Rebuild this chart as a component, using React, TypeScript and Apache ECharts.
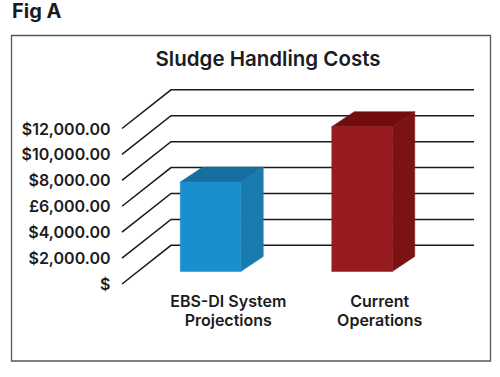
import React, { useEffect, useRef } from "react";
import * as echarts from "echarts";

const categories = ["EBS-DI System\nProjections", "Current\nOperations"];
const costs = [6900, 11180];
const tickValues = [0, 2000, 4000, 6000, 8000, 10000, 12000];
const tickLabels = ["$", "$2,000.00", "$4,000.00", "£6,000.00", "$8,000.00", "$10,000.00", "$12,000.00"];
const figureLabel = "Fig A";
const chartTitle = "Sludge Handling Costs";

const FONT = "Inter";
const TEXT = "#1b1b22";
// Oblique projection of the wall and the floor
const WALL_FRONT_DX = -30.5;
const WALL_BACK_DX = 18.5;
const WALL_DY = -38.7;
const BAR_DX = -17.75;
const BAR_BASE_DY = -12.5;
const BAR_W = 60.5;
const DEPTH_X = 22.5;
const DEPTH_Y = -15;
const FACES = [
  { front: "#1a8fcf", top: "#176fa0", side: "#1a7bae" },
  { front: "#971c1f", top: "#720d0e", side: "#7d1214" },
];

export default function App() {
  const ref = useRef<HTMLDivElement>(null);
  useEffect(() => {
    document.body.style.margin = "0";
    const chart = echarts.init(ref.current!, undefined, { renderer: "svg" });
    chart.setOption({
      animation: false,
      backgroundColor: "#fff",
      title: {
        text: chartTitle,
        left: 263,
        top: 43,
        textAlign: "center",
        textStyle: { fontFamily: FONT, fontSize: 20.5, fontWeight: 600, color: TEXT },
      },
      graphic: [
        {
          type: "rect",
          silent: true,
          shape: { x: 11.5, y: 35.5, width: 479, height: 325.5 },
          style: { fill: "none", stroke: "#555", lineWidth: 1.3 },
        },
        {
          type: "text",
          silent: true,
          x: 12,
          y: 1,
          style: { text: figureLabel, fontFamily: FONT, fontSize: 20, fontWeight: 700, fill: TEXT },
        },
      ],
      grid: { left: 152.5, top: 128.5, width: 303, height: 155.5 },
      xAxis: {
        type: "category",
        data: categories,
        axisLine: { show: false },
        axisTick: { show: false },
        axisLabel: {
          margin: 7,
          interval: 0,
          lineHeight: 19,
          fontFamily: FONT,
          fontSize: 16,
          fontWeight: 600,
          color: TEXT,
        },
      },
      yAxis: {
        type: "value",
        min: 0,
        max: 12000,
        interval: 2000,
        splitLine: { show: false },
        axisLine: { show: false },
        axisTick: { show: false },
        axisLabel: {
          margin: 42,
          padding: [3, 0, 0, 0],
          fontFamily: FONT,
          fontSize: 16,
          fontWeight: 600,
          color: TEXT,
          formatter: (v: number) => tickLabels[tickValues.indexOf(v)],
        },
      },
      series: [
        {
          type: "custom",
          z: 1,
          clip: false,
          data: tickValues.map((v) => [0, v]),
          encode: { x: 0, y: 1 },
          silent: true,
          renderItem: (params: any, api: any) => {
            const y = api.coord([0, api.value(1)])[1];
            const cs = params.coordSys;
            return {
              type: "polyline",
              shape: {
                points: [
                  [cs.x + WALL_FRONT_DX, y],
                  [cs.x + WALL_BACK_DX, y + WALL_DY],
                  [cs.x + cs.width + WALL_BACK_DX, y + WALL_DY],
                ],
              },
              style: { fill: "none", stroke: "#1a1a1a", lineWidth: 1.5 },
            };
          },
        },
        {
          type: "custom",
          z: 2,
          clip: false,
          data: costs.map((v, i) => [i, v]),
          encode: { x: 0, y: 1 },
          silent: true,
          renderItem: (_params: any, api: any) => {
            const i = api.value(0);
            const base = api.coord([i, 0]);
            const topPt = api.coord([i, api.value(1)]);
            const x0 = base[0] + BAR_DX - BAR_W / 2;
            const x1 = x0 + BAR_W;
            const yb = base[1] + BAR_BASE_DY;
            const yt = topPt[1] + BAR_BASE_DY;
            const c = FACES[i];
            const poly = (points: number[][], fill: string) => ({
              type: "polygon",
              shape: { points },
              style: { fill, stroke: fill, lineWidth: 0.5 },
            });
            return {
              type: "group",
              children: [
                poly([[x1, yt], [x1 + DEPTH_X, yt + DEPTH_Y], [x1 + DEPTH_X, yb + DEPTH_Y], [x1, yb]], c.side),
                poly([[x0, yt], [x0 + DEPTH_X, yt + DEPTH_Y], [x1 + DEPTH_X, yt + DEPTH_Y], [x1, yt]], c.top),
                poly([[x0, yt], [x1, yt], [x1, yb], [x0, yb]], c.front),
              ],
            };
          },
        },
      ],
    });
    return () => chart.dispose();
  }, []);
  return <div ref={ref} style={{ width: 500, height: 377 }} />;
}
